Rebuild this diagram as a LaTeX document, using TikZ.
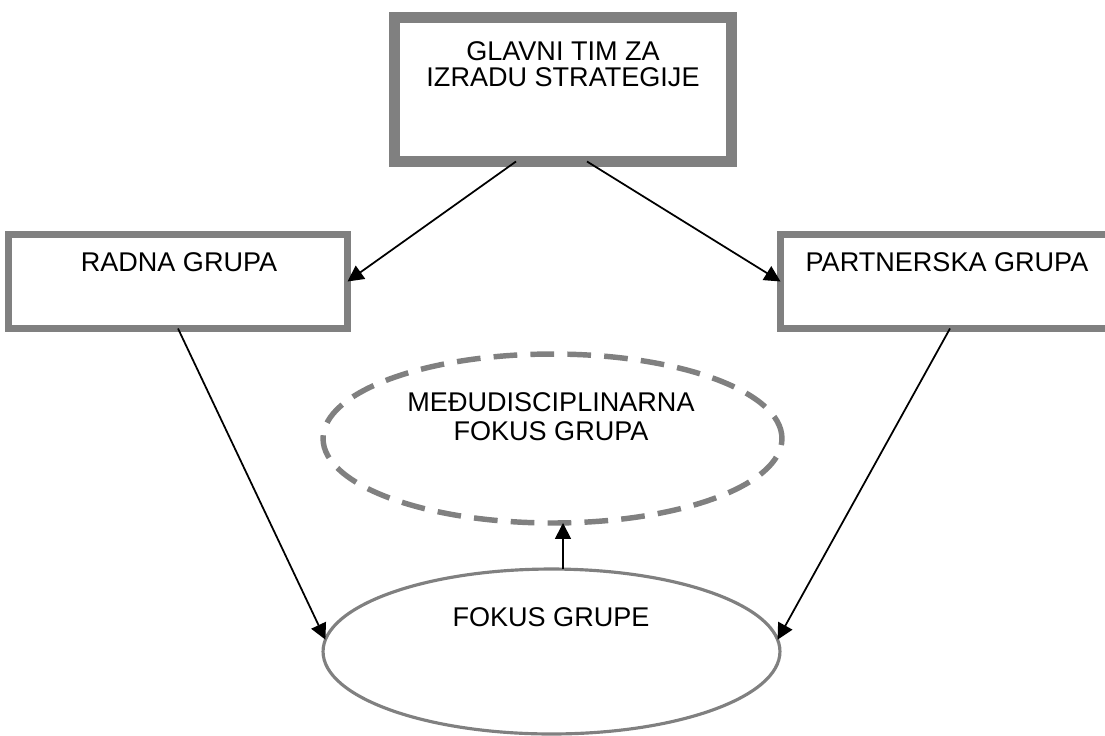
\documentclass[tikz,border=0pt]{standalone}
\usepackage{fontspec}
\setmainfont{Liberation Sans}
\usetikzlibrary{shapes.geometric, arrows.meta, calc}

\definecolor{boxgray}{HTML}{808080}

\tikzset{
    glavnibox/.style={draw=boxgray, line width=6.5pt, minimum width=6.74cm,
        minimum height=2.88cm, inner sep=0pt, outer sep=0pt},
    grupabox/.style={draw=boxgray, line width=4pt, minimum width=6.78cm,
        minimum height=1.88cm, inner sep=0pt, outer sep=0pt},
    medjuoval/.style={ellipse, draw=boxgray, line width=3.1pt,
        dash pattern=on 13.5pt off 7.5pt, minimum width=9.18cm,
        minimum height=3.38cm, inner sep=0pt, outer sep=0pt},
    fokusoval/.style={ellipse, draw=boxgray, line width=1.8pt,
        minimum width=9.14cm, minimum height=3.3cm, inner sep=0pt, outer sep=0pt},
    lbl/.style={font=\fontsize{15.4}{16.5}\selectfont, align=center,
        inner sep=0pt, anchor=north},
    veza/.style={line width=1pt, -{Triangle[length=0.32cm, width=0.32cm]}}
}

\begin{document}
\begin{tikzpicture}[x=0.02cm, y=-0.02cm]
    \useasboundingbox (0,0) rectangle (1105,735);

    % okviri
    \node[glavnibox] (glavni) at (563,89.5) {};
    \node[grupabox] (radna) at (178,281.5) {};
    \node[grupabox] (partner) at (950,281.5) {};
    \node[medjuoval] (medju) at (552.5,438.5) {};
    \node[fokusoval] (fokus) at (551.5,651.5) {};

    % tekst
    \node[lbl, font=\fontsize{15.4}{15.2}\selectfont] (glavnitxt) at (563,41)
        {GLAVNI TIM ZA\\IZRADU STRATEGIJE};
    \node[lbl] (radnatxt) at (179,252) {RADNA GRUPA};
    \node[lbl] (partnertxt) at (947,252) {PARTNERSKA GRUPA};
    \node[lbl] (medjutxt) at (551,392) {MEĐUDISCIPLINARNA\\FOKUS GRUPA};
    \node[lbl] (fokustxt) at (551,607) {FOKUS GRUPE};

    % strelice
    \draw[veza] ($(glavni.south)+(-47,0)$) -- (radna.east);
    \draw[veza] ($(glavni.south)+(24,0)$) -- (partner.west);
    \draw[veza] (radna.south) -- (fokus.177);
    \draw[veza] (partner.south) -- (fokus.3);
    \draw[veza] ($(fokus.north)+(11.5,0)$) -- ($(medju.south)+(10.5,0)$);
\end{tikzpicture}
\end{document}
